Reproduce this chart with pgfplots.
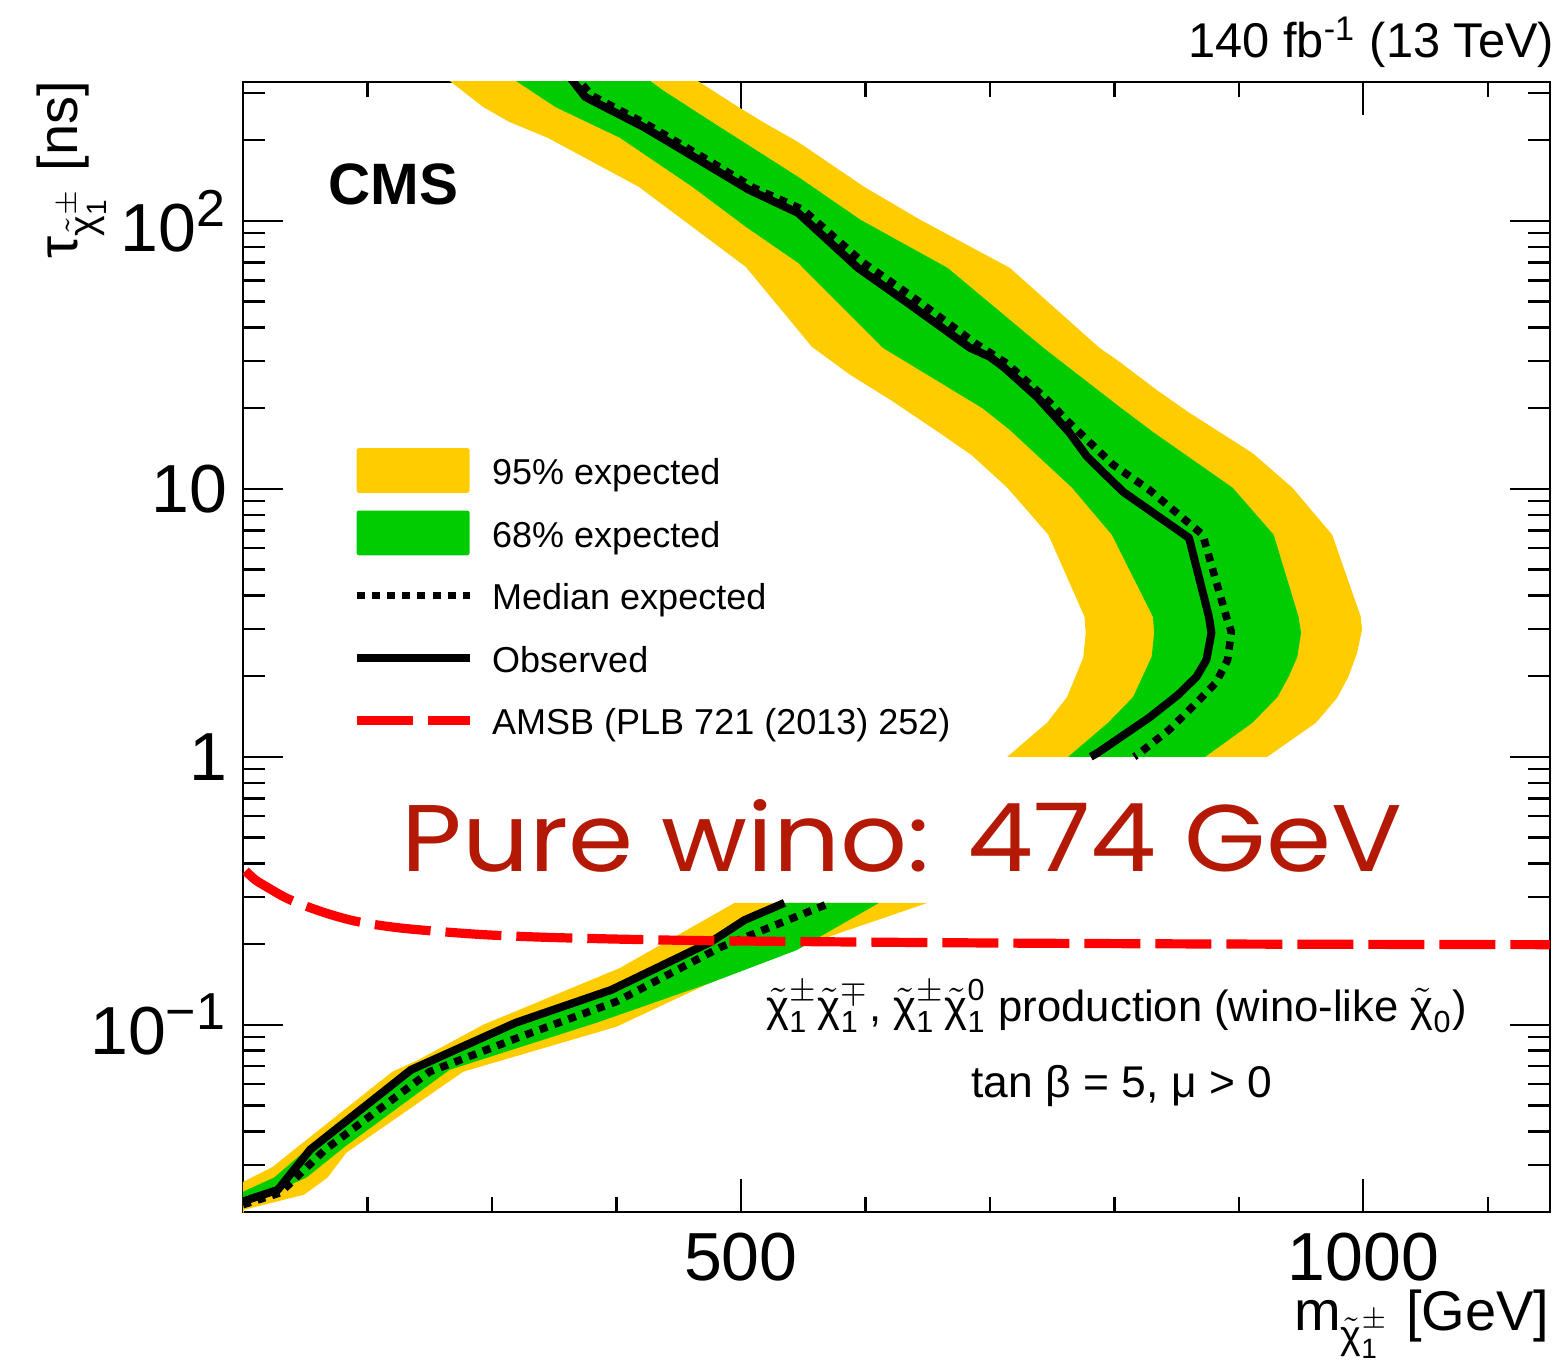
\documentclass[border=0pt]{standalone}
\usepackage{amsmath}
\usepackage{graphicx}
\usepackage{fontspec}
\setmainfont{Liberation Sans}
\newfontfamily\annofont{Poppins}
\usepackage{pgfplots}
\pgfplotsset{compat=1.18}
\definecolor{cmsyellow}{RGB}{255,204,0}
\definecolor{cmsgreen}{RGB}{0,204,0}
\definecolor{amsbred}{RGB}{255,0,0}
\definecolor{winored}{RGB}{180,25,5}
\newcommand{\chit}{\tilde{\text{χ}}}
\pgfplotsset{
  lineleg/.style={legend image code/.code={\draw[##1] (0pt,0pt) -- (28.25pt,0pt);}},
  yelleg/.style={legend image code/.code={\fill[cmsyellow, rounded corners=0.6pt] (0pt,-5.6pt) rectangle (28.25pt,5.6pt);}},
  greenleg/.style={legend image code/.code={\fill[cmsgreen, rounded corners=0.6pt] (0pt,-5.6pt) rectangle (28.25pt,5.6pt);}},
}
\begin{document}
\begin{tikzpicture}
\path[use as bounding box] (-60.75pt,-37.5pt) rectangle (330pt,303pt);
\begin{axis}[
  scale only axis, width=326.75pt, height=282.5pt,
  xmin=100, xmax=1150, ymin=0.02, ymax=330, ymode=log,
  clip mode=individual,
  xtick={500,1000}, xticklabels={500,1000},
  minor xtick={100,200,300,400,500,600,700,800,900,1000,1100},
  ytick={0.1,1,10,100},
  yticklabels={10\textsuperscript{\fontsize{13}{13}\selectfont −1},1,10,10\textsuperscript{\fontsize{13}{13}\selectfont 2}},
  minor ytick={0.02,0.03,0.04,0.05,0.06,0.07,0.08,0.09,0.2,0.3,0.4,0.5,0.6,0.7,0.8,0.9,2,3,4,5,6,7,8,9,20,30,40,50,60,70,80,90,200,300},
  tick align=inside,
  axis line style={line width=0.7pt},
  every tick/.style={black, line width=0.6pt},
  xtick style={/pgfplots/major tick length=8.25pt, /pgfplots/minor tick length=3.75pt},
  ytick style={/pgfplots/major tick length=10pt, /pgfplots/minor tick length=5.5pt},
  tick label style={font=\fontsize{17}{17}\selectfont},
  xticklabel style={inner sep=0pt, anchor=north, yshift=-5pt},
  yticklabel style={inner sep=0pt, anchor=east, xshift=-3.75pt},
  legend cell align=left,
  legend style={draw=none, fill=none, inner sep=0pt, outer sep=0pt,
    at={(0.0834,0.676)}, anchor=north west,
    row sep=4.4pt, column sep=4.5pt,
    font=\fontsize{9}{11}\selectfont,
    nodes={inner sep=0pt, text height=9.2pt, text depth=2pt}},
]
% 95% band
\addplot[fill=cmsyellow, draw=none, yelleg]
coordinates {(262,350) (265,336) (293,266) (314,234) (345,204) (418,134) (504,67.3) (557,33.9) (588,26.6) (620,21.5) (656,16.6) (685,13.4) (714,10.1) (747,6.74) (776,3.33) (777,2.90) (775,2.34) (762,1.67) (746,1.34) (714,1.0)
 (923,1.0) (962,1.34) (979,1.66) (988,1.99) (995,2.44) (999,2.98) (998,3.33) (975,6.74) (943,10.1) (911,13.6) (859,19.4) (834,23.4) (802,30.3) (788,33.6) (716,66.8) (644,101) (599,134) (546,197) (519,232) (498,266) (464,336) (455,350)};
\addlegendentry{95\% expected}
\addplot[fill=cmsyellow, draw=none, forget plot]
coordinates {(100,0.0259) (124,0.0295) (138,0.0333) (220,0.0668) (241,0.0740) (293,0.1) (403,0.163) (495,0.285)
 (650,0.285) (545,0.194) (507,0.168) (400,0.0983) (277,0.0668) (183,0.0333) (168,0.0269) (149,0.0232) (101,0.0204) (100,0.0195)};
% 68% band
\addplot[fill=cmsgreen, draw=none, greenleg]
coordinates {(312,350) (318,336) (351,266) (403,204) (461,134) (504,95) (546,69.7) (614,33.6) (694,20.0) (716,16.6) (766,10.1) (798,6.74) (831,3.33) (832,2.90) (830,2.36) (815,1.67) (795,1.34) (763,1.0)
 (873,1.0) (911,1.34) (931,1.67) (940,1.99) (947,2.36) (950,2.90) (948,3.33) (928,6.74) (895,10.1) (831,16.3) (802,20.6) (743,33.6) (666,66.8) (596,101) (546,146) (478,232) (437,308) (426,336) (417,350)};
\addlegendentry{68\% expected}
\addplot[fill=cmsgreen, draw=none, forget plot]
coordinates {(100,0.0238) (125,0.0269) (154,0.0351) (237,0.0691) (315,0.1017) (396,0.1386) (473,0.204) (531,0.285)
 (611,0.285) (545,0.190) (476,0.1435) (384,0.1017) (266,0.0679) (182,0.0351) (151,0.0269) (124,0.0236) (100,0.0217)};
% median expected
\addplot[black, line width=1.9pt, line cap=butt, dash pattern=on 2pt off 1.8pt, lineleg]
coordinates {(364,350) (368,342) (380,294) (426,227) (474,168) (510,133) (550,110) (598,70) (638,52) (688,35) (714,29.3) (746,21.5) (764,17.6) (799,12.3) (828,9.92) (871,6.74) (890,3.33) (894,2.93) (891,2.30) (882,1.90) (866,1.59) (844,1.26) (820,1.03) (816,1.0)};
\addlegendentry{Median expected}
\addplot[black, line width=1.9pt, line cap=butt, dash pattern=on 2pt off 1.8pt, forget plot]
coordinates {(100,0.0213) (130,0.0236) (166,0.0342) (250,0.0668) (323,0.0902) (400,0.122) (484,0.195) (572,0.285)};
% observed
\addplot[black, line width=2pt, line join=round, lineleg]
coordinates {(360,350) (363,342) (375,290) (422,224) (470,165) (506,131) (546,107) (594,66.8) (634,49.4) (684,33.6) (700,31.1) (711,28.5) (738,22.0) (764,16.2) (778,13.2) (807,9.75) (860,6.56) (876,3.33) (878,2.90) (874,2.30) (866,1.99) (851,1.70) (828,1.40) (786,1.03) (781,1.0)};
\addlegendentry{Observed}
\addplot[black, line width=2pt, line join=round, forget plot]
coordinates {(100,0.0219) (128,0.0242) (154,0.0342) (235,0.0679) (319,0.1017) (396,0.135) (476,0.204) (503,0.246) (535,0.285)};
% AMSB
\addplot[amsbred, line width=2.3pt, line cap=butt, dash pattern=on 14pt off 3.75pt, smooth, lineleg]
coordinates {(102,0.375) (110,0.347) (120,0.325) (133,0.300) (147,0.281) (170,0.258) (193,0.242) (225,0.230) (262,0.222) (300,0.216) (358,0.211) (472,0.206) (690,0.202) (900,0.200) (1150,0.199)};
\addlegendentry{AMSB (PLB 721 (2013) 252)}
% texts
\node[anchor=base west, inner sep=0pt, font=\bfseries\fontsize{14.6}{15}\selectfont]
  at ([xshift=21.25pt,yshift=-30.75pt]rel axis cs:0,1) {CMS};
\node[anchor=base east, inner sep=0pt, font=\fontsize{12.2}{13}\selectfont]
  at ([xshift=1.25pt,yshift=6pt]rel axis cs:1,1) {140 fb\textsuperscript{-1} (13 TeV)};
\node[anchor=base east, inner sep=0pt, font=\fontsize{14}{15}\selectfont]
  at ([yshift=-29.5pt]rel axis cs:1,0) {m$_{\chit_{\text{1}}^{\pm}}$ [GeV]};
\node[anchor=base east, rotate=90, inner sep=0pt, font=\fontsize{14}{15}\selectfont]
  at ([xshift=-41.25pt,yshift=0.5pt]rel axis cs:0,1) {τ$_{\chit_{\text{1}}^{\pm}}$ [ns]};
\node[anchor=base, inner sep=0pt, font=\fontsize{10.9}{13}\selectfont]
  at (axis cs:802,0.1026) {$\chit_{\text{1}}^{\pm}\chit_{\text{1}}^{\mp}$, $\chit_{\text{1}}^{\pm}\chit_{\text{1}}^{\text{0}}$ production (wino-like $\chit_{\text{0}}$)};
\node[anchor=base, inner sep=0pt, font=\fontsize{11.1}{13}\selectfont]
  at (axis cs:806,0.0534) {tan β = 5, μ > 0};
\node[anchor=base west, inner sep=0pt, text=winored]
  at (axis cs:227,0.372) {\resizebox{250pt}{18pt}{\annofont Pure wino: 474 GeV}};
\end{axis}
\end{tikzpicture}
\end{document}
